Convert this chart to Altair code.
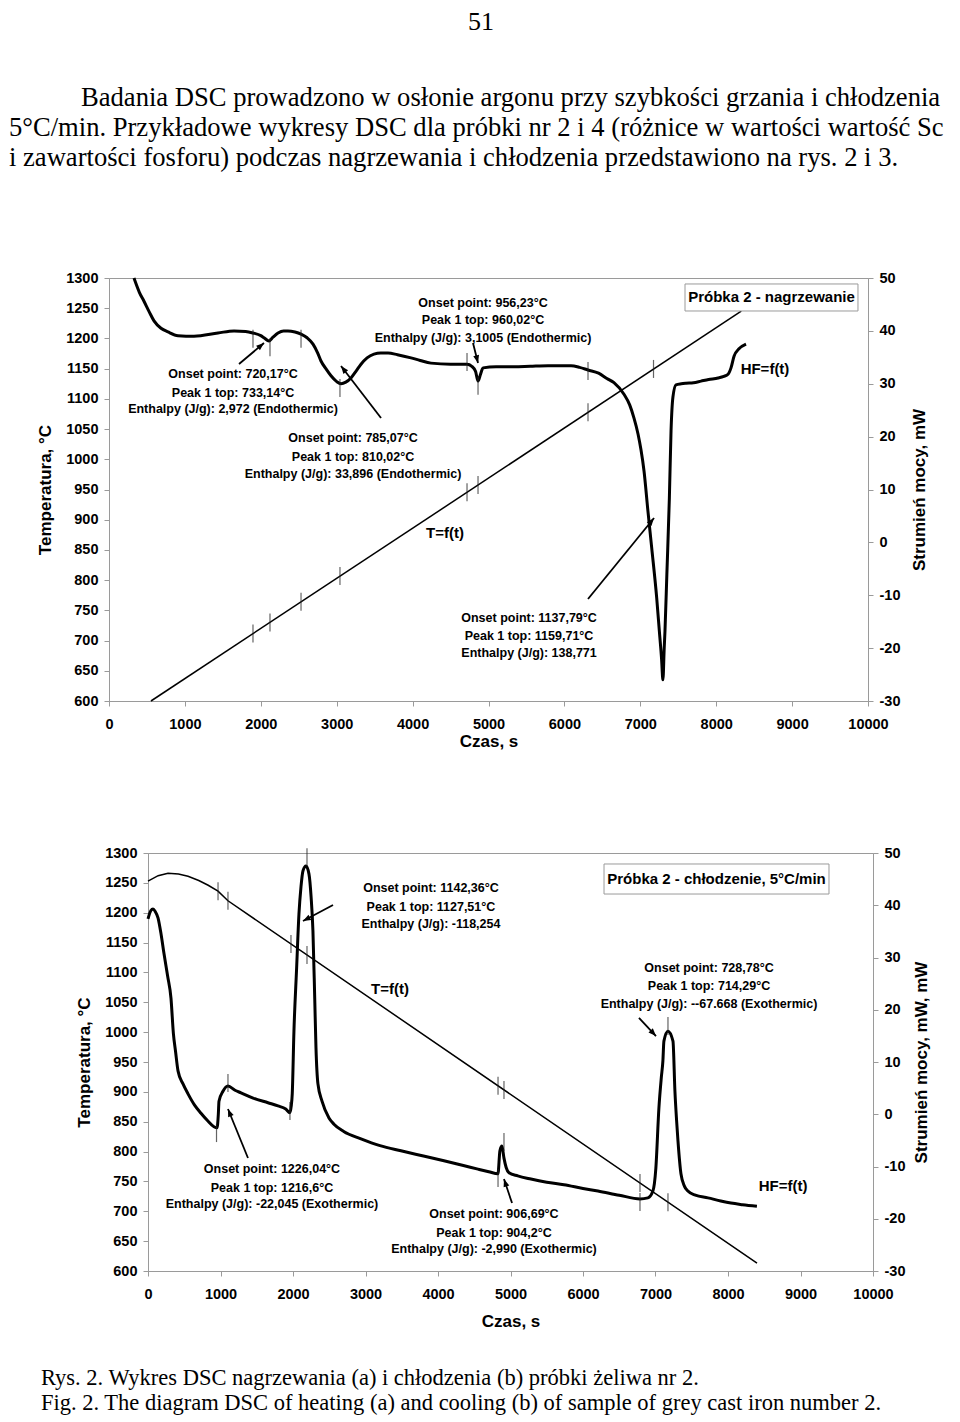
import math
import altair as alt
import pandas as pd

# ---------------- page text ----------------
page_number = "51"
paragraph_lines = [
    "Badania DSC prowadzono w osłonie argonu przy szybkości grzania i chłodzenia",
    "5°C/min. Przykładowe wykresy DSC dla próbki nr 2 i 4 (różnice w wartości wartość Sc",
    "i zawartości fosforu) podczas nagrzewania i chłodzenia przedstawiono na rys. 2 i 3.",
]
caption_lines = [
    "Rys. 2. Wykres DSC  nagrzewania (a) i chłodzenia (b) próbki żeliwa nr 2.",
    "Fig. 2. The diagram DSC of heating (a) and cooling (b) of sample of grey cast iron number 2.",
]

# ---------------- (a) heating ----------------
heat_T_time = [553, 8330]
heat_T_temp = [600, 1245]

heat_hf_time = [329, 400, 461, 530, 593, 685, 777, 909, 1120, 1436, 1647, 1800, 1897, 2000,
                2042, 2108, 2160, 2227, 2300, 2358, 2450, 2530, 2610, 2688, 2750, 2793, 2860,
                2925, 3000, 3057, 3120, 3188, 3260, 3320, 3400, 3491, 3580, 3676, 3800, 3979,
                4100, 4242, 4500, 4717, 4780, 4830, 4862, 4895, 4928, 5100, 5336, 5550, 5784,
                6087, 6200, 6311, 6450, 6560, 6653, 6785, 6860, 6917, 6970, 7009, 7049, 7100,
                7150, 7216, 7251, 7280, 7298, 7315, 7325, 7350, 7383, 7405, 7430, 7470, 7540,
                7602, 7700, 7800, 7900, 8024, 8100, 8156, 8195, 8235, 8300, 8393]
heat_hf_val = [50.0, 47.3, 45.6, 43.6, 41.9, 40.5, 39.8, 39.1, 39.0, 39.6, 40.0, 39.9, 39.6, 39.1,
               38.7, 38.1, 38.8, 39.6, 40.0, 40.0, 39.8, 39.4, 38.7, 37.5, 35.8, 34.3, 32.8,
               31.5, 30.4, 30.0, 30.3, 31.1, 32.5, 33.7, 34.9, 35.6, 35.8, 35.8, 35.5, 34.9,
               34.4, 33.9, 33.7, 33.7, 33.3, 32.3, 30.5, 31.8, 33.0, 33.2, 33.2, 33.3, 33.4,
               33.4, 33.1, 32.6, 32.0, 31.0, 30.2, 28.0, 26.0, 23.5, 20.5, 17.5, 13.5, 6.0,
               -1.0, -10.5, -16.8, -22.0, -26.0, -20.0, -16.8, -6.0, 8.4, 21.1, 27.5, 29.8, 30.0,
               30.1, 30.2, 30.5, 30.8, 31.1, 31.4, 31.8, 33.0, 35.2, 36.6, 37.5]

heat_tick_time = [1897, 2121, 2530, 3043, 4717, 4862, 6311, 7174]
heat_tick_temp = [711.6, 730.1, 764.1, 806.7, 945.6, 957.6, 1077.9, 1149.5]
heat_hftick_time = [1897, 2121, 2530, 3043, 4717, 4862, 6311]
heat_hftick_val = [38.5, 36.9, 38.5, 29.2, 34.1, 29.6, 32.4]

heat_note_text = ["Onset point: 720,17°C", "Peak 1 top: 733,14°C", "Enthalpy (J/g): 2,972 (Endothermic)",
                  "Onset point: 785,07°C", "Peak 1 top: 810,02°C", "Enthalpy (J/g): 33,896 (Endothermic)",
                  "Onset point: 956,23°C", "Peak 1 top: 960,02°C", "Enthalpy (J/g): 3,1005 (Endothermic)",
                  "Onset point: 1137,79°C", "Peak 1 top: 1159,71°C", "Enthalpy (J/g): 138,771"]
heat_note_time = [1634, 1634, 1634, 3215, 3215, 3215, 4928, 4928, 4928, 5534, 5534, 5534]
heat_note_temp = [1141.1, 1109.7, 1083.2, 1035.7, 1003.8, 976.2, 1259.1, 1230.0, 1201.2, 737.4, 707.6, 679.4]

heat_arrow_t0 = [1713, 3584, 4796, 6311]
heat_arrow_T0 = [1157.7, 1068.3, 1192.4, 768.8]
heat_arrow_t1 = [2042, 3057, 4862, 7181]
heat_arrow_T1 = [1192.4, 1154.4, 1159.3, 902.8]

heat_curve_labels = ["T=f(t)", "HF=f(t)"]
heat_curve_label_time = [4427, 8643]
heat_curve_label_temp = [878.0, 1149.4]

heat_box_title = "Próbka 2 - nagrzewanie"
heat_box_time = [7589, 9868]
heat_box_temp = [1245.4, 1290.1]

# ---------------- (b) cooling ----------------
cool_T_time = [0, 140, 276, 420, 552, 700, 830, 966, 1103, 8400]
cool_T_temp = [1253, 1262, 1266, 1265, 1261, 1254, 1246, 1236, 1220, 613]

cool_hf_time = [0, 40, 69, 100, 138, 180, 221, 270, 317, 350, 380, 414, 483, 552, 640, 731, 820,
                910, 952, 970, 979, 1034, 1103, 1200, 1283, 1450, 1655, 1793, 1900, 1958, 1975,
                1990, 2013, 2050, 2082, 2110, 2138, 2179, 2220, 2250, 2275, 2300, 2317, 2344,
                2400, 2496, 2565, 2700, 2938, 3200, 3489, 3800, 4082, 4350, 4551, 4700, 4827,
                4854, 4882, 4910, 4940, 4979, 5100, 5282, 5500, 5737, 6000, 6206, 6500, 6786,
                6895, 6964, 7005, 7047, 7080, 7102, 7116, 7172, 7241, 7268, 7290, 7310, 7351,
                7400, 7447, 7550, 7723, 7900, 8040, 8200, 8399]
cool_hf_val = [37.4, 39.0, 39.3, 38.8, 37.6, 34.5, 30.7, 26.5, 22.2, 15.5, 12.0, 8.3, 5.8, 3.9, 1.8,
               0.2, -1.2, -2.4, -2.6, 0.0, 2.5, 4.4, 5.4, 4.6, 4.1, 3.1, 2.2, 1.6, 1.0, 0.3, 1.5,
               4.0, 15.9, 28.0, 38.3, 43.5, 46.6, 47.5, 46.0, 41.5, 35.1, 22.0, 12.7, 5.8,
               2.5, -0.7, -1.9, -3.3, -4.7, -6.0, -7.0, -8.0, -8.9, -9.8, -10.5, -11.0, -11.4,
               -7.0, -6.1, -8.4, -10.2, -11.2, -11.8, -12.4, -13.0, -13.5, -14.2, -14.7, -15.5, -16.2,
               -16.0, -14.7, -10.3, 1.2, 7.0, 10.2, 14.0, 15.9, 14.0, 4.4, -1.0, -5.1, -11.4,
               -13.8, -14.7, -15.5, -16.0, -16.6, -17.0, -17.3, -17.6]

cool_tick_time = [966, 1103, 1972, 2193, 4828, 4910, 6786, 7172]
cool_tick_temp = [1236, 1220, 1147.7, 1129.3, 910.1, 903.3, 747.2, 715.1]
cool_hftick_time = [945, 1103, 1958, 2193, 4828, 4910, 6786, 7172]
cool_hftick_val = [-3.6, 6.0, 0.6, 49.2, -12.2, -5.3, -16.8, 16.9]

cool_note_text = ["Onset point: 1142,36°C", "Peak 1 top: 1127,51°C", "Enthalpy (J/g): -118,254",
                  "Onset point: 728,78°C", "Peak 1 top: 714,29°C", "Enthalpy (J/g): --67.668 (Exothermic)",
                  "Onset point: 1226,04°C", "Peak 1 top: 1216,6°C", "Enthalpy (J/g): -22,045 (Exothermic)",
                  "Onset point: 906,69°C", "Peak 1 top: 904,2°C", "Enthalpy (J/g): -2,990 (Exothermic)"]
cool_note_time = [3903, 3903, 3903, 7738, 7738, 7738, 1710, 1710, 1710, 4772, 4772, 4772]
cool_note_temp = [1241.4, 1209.6, 1181.1, 1107.4, 1077.3, 1047.1, 770.8, 738.9, 712.2, 695.4, 663.6, 636.8]

cool_arrow_t0 = [2552, 6772, 1379, 5021]
cool_arrow_T0 = [1212.9, 1023.7, 789.2, 713.8]
cool_arrow_t1 = [2138, 7007, 1103, 4910]
cool_arrow_T1 = [1186.1, 993.5, 871.3, 754.0]

cool_curve_labels = ["T=f(t)", "HF=f(t)"]
cool_curve_label_time = [3338, 8759]
cool_curve_label_temp = [1072.2, 742.3]

cool_box_title = "Próbka 2 - chłodzenie, 5°C/min"
cool_box_time = [6290, 9393]
cool_box_temp = [1231.3, 1281.6]

# ---------------- styling ----------------
SANS = "Liberation Sans"
SERIF = "Liberation Serif"
W1, H1 = 759, 423
W2, H2 = 725, 418
GRAY = "#9a9a9a"
ARROW_SHAPE = "M0,0L-0.42,1.1L0.42,1.1Z"
PLAIN = "toString(datum.value)"


def build_chart(W, H, T_time, T_temp, hf_time, hf_val, tick_time, tick_temp,
                hftick_time, hftick_val, note_text, note_time, note_temp,
                a_t0, a_T0, a_t1, a_T1, lab_text, lab_time, lab_temp,
                box_title, box_time, box_temp, left_title_x, right_title_x,
                right_title, x_title_y, extra_text):
    xaxis = alt.Axis(values=list(range(0, 10001, 1000)), labelExpr=PLAIN, title="Czas, s",
                     titleY=x_title_y, titleBaseline="middle", labelPadding=11,
                     labelFlush=False, labelOverlap=False)
    laxis = alt.Axis(values=list(range(600, 1301, 50)), labelExpr=PLAIN, title="Temperatura, °C",
                     orient="left", titleX=left_title_x, titleAngle=270, titleBaseline="middle",
                     labelPadding=6, labelFlush=False, labelOverlap=False)
    raxis = alt.Axis(values=list(range(-30, 51, 10)), labelExpr=PLAIN, title=right_title,
                     orient="right", titleX=right_title_x, titleAngle=270, titleBaseline="middle",
                     labelPadding=6, labelFlush=False, labelOverlap=False)
    xs = alt.Scale(domain=[0, 10000], nice=False, zero=False)
    ls = alt.Scale(domain=[600, 1300], nice=False, zero=False)
    rs = alt.Scale(domain=[-30, 50], nice=False, zero=False)

    def X(f):
        return alt.X(f + ":Q", scale=xs, axis=xaxis)

    def YL(f):
        return alt.Y(f + ":Q", scale=ls, axis=laxis)

    def YR(f):
        return alt.Y(f + ":Q", scale=rs, axis=raxis)

    pxt = W / 10000.0
    pxv = H / 700.0
    angles = []
    for t0, v0, t1, v1 in zip(a_t0, a_T0, a_t1, a_T1):
        dx = (t1 - t0) * pxt
        dy = -(v1 - v0) * pxv
        angles.append(math.degrees(math.atan2(dx, -dy)) % 360)

    tdf = pd.DataFrame({"t": T_time, "T": T_temp})
    tick_df = pd.DataFrame({"t": tick_time, "T": tick_temp})
    arrow_df = pd.DataFrame({"t0": a_t0, "T0": a_T0, "t1": a_t1, "T1": a_T1, "ang": angles})
    note_df = pd.DataFrame({"t": note_time, "T": note_temp, "s": note_text})
    lab_df = pd.DataFrame({"t": lab_time, "T": lab_temp, "s": lab_text})
    box_df = pd.DataFrame({"t0": [box_time[0]], "t1": [box_time[1]],
                           "T0": [box_temp[0]], "T1": [box_temp[1]],
                           "tc": [(box_time[0] + box_time[1]) / 2],
                           "Tc": [(box_temp[0] + box_temp[1]) / 2], "s": [box_title]})
    hf_df = pd.DataFrame({"t": hf_time, "HF": hf_val})
    hftick_df = pd.DataFrame({"t": hftick_time, "HF": hftick_val})

    tline = alt.Chart(tdf).mark_line(color="black", strokeWidth=1.5).encode(x=X("t"), y=YL("T"))
    tticks = alt.Chart(tick_df).mark_tick(orient="vertical", size=18, thickness=1.2,
                                          color="#222222").encode(x=X("t"), y=YL("T"))
    arrows = alt.Chart(arrow_df).mark_rule(color="black", strokeWidth=1.8).encode(
        x=X("t0"), y=YL("T0"), x2=alt.X2("t1:Q"), y2=alt.Y2("T1:Q"))
    heads = alt.Chart(arrow_df).mark_point(shape=ARROW_SHAPE, filled=True, size=200,
                                           color="black", opacity=1).encode(
        x=X("t1"), y=YL("T1"), angle=alt.Angle("ang:Q", scale=None))
    notes = alt.Chart(note_df).mark_text(font=SANS, fontWeight="bold", fontSize=12.5,
                                         align="center", baseline="middle", color="black").encode(
        x=X("t"), y=YL("T"), text="s:N")
    labs = alt.Chart(lab_df).mark_text(font=SANS, fontWeight="bold", fontSize=15,
                                       align="center", baseline="middle", color="black").encode(
        x=X("t"), y=YL("T"), text="s:N")
    box = alt.Chart(box_df).mark_rect(fill="white", stroke=GRAY, strokeWidth=1).encode(
        x=X("t0"), x2=alt.X2("t1:Q"), y=YL("T0"), y2=alt.Y2("T1:Q"))
    box_text = alt.Chart(box_df).mark_text(font=SANS, fontWeight="bold", fontSize=15,
                                           align="center", baseline="middle", color="black").encode(
        x=X("tc"), y=YL("Tc"), text="s:N")

    hfline = alt.Chart(hf_df).mark_line(color="black", strokeWidth=3,
                                        interpolate="monotone").encode(x=X("t"), y=YR("HF"))
    hfticks = alt.Chart(hftick_df).mark_tick(orient="vertical", size=18, thickness=1.2,
                                             color="#222222").encode(x=X("t"), y=YR("HF"))

    left = alt.layer(tline, tticks, arrows, heads, notes, labs, box, box_text, *extra_text)
    right = alt.layer(hfline, hfticks)
    return alt.layer(left, right).resolve_scale(y="independent").properties(width=W, height=H)


def page_text(s, x, y, size, align="left", baseline="middle"):
    return alt.Chart(pd.DataFrame({"s": [s]})).mark_text(
        font=SERIF, fontSize=size, align=align, baseline=baseline, color="black").encode(
        x=alt.value(x), y=alt.value(y), text="s:N")


# page text positioned relative to the plot area of each chart (plot 1 at 108,277; plot 2 at 147,852)
header = [
    page_text(page_number, 372, -269, 26, align="center", baseline="top"),
    page_text(paragraph_lines[0], -28, -180, 26.6),
    page_text(paragraph_lines[1], -100, -150, 26.6),
    page_text(paragraph_lines[2], -100, -120, 26.6),
]
captions = [
    page_text(caption_lines[0], -107, 524.5, 22.5),
    page_text(caption_lines[1], -107, 549.5, 22.5),
]

chart1 = build_chart(W1, H1, heat_T_time, heat_T_temp, heat_hf_time, heat_hf_val,
                     heat_tick_time, heat_tick_temp, heat_hftick_time, heat_hftick_val,
                     heat_note_text, heat_note_time, heat_note_temp,
                     heat_arrow_t0, heat_arrow_T0, heat_arrow_t1, heat_arrow_T1,
                     heat_curve_labels, heat_curve_label_time, heat_curve_label_temp,
                     heat_box_title, heat_box_time, heat_box_temp,
                     -64, 51, "Strumień mocy, mW", 40, header)

chart2 = build_chart(W2, H2, cool_T_time, cool_T_temp, cool_hf_time, cool_hf_val,
                     cool_tick_time, cool_tick_temp, cool_hftick_time, cool_hftick_val,
                     cool_note_text, cool_note_time, cool_note_temp,
                     cool_arrow_t0, cool_arrow_T0, cool_arrow_t1, cool_arrow_T1,
                     cool_curve_labels, cool_curve_label_time, cool_curve_label_temp,
                     cool_box_title, cool_box_time, cool_box_temp,
                     -64, 48, "Strumień mocy, mW, mW", 50, captions)

spacer = alt.Chart(pd.DataFrame({"a": [0]})).mark_point(opacity=0).properties(
    width=39, height=H2, view=alt.ViewBackground(stroke="transparent"))

row2 = alt.hconcat(spacer, chart2, spacing=0, bounds="flush")

chart = alt.vconcat(chart1, row2, spacing=152, bounds="flush").properties(
    padding={"left": 0, "top": 0, "right": 0, "bottom": 0}
).configure_axis(
    labelFont=SANS, labelFontSize=14.5, labelFontWeight="bold", labelColor="black",
    titleFont=SANS, titleFontSize=17, titleFontWeight="bold", titleColor="black",
    domainColor=GRAY, tickColor=GRAY, tickSize=5, grid=False
).configure_view(stroke=GRAY, strokeWidth=1)

chart.save("out.html", embed_options={"renderer": "svg", "actions": False})
